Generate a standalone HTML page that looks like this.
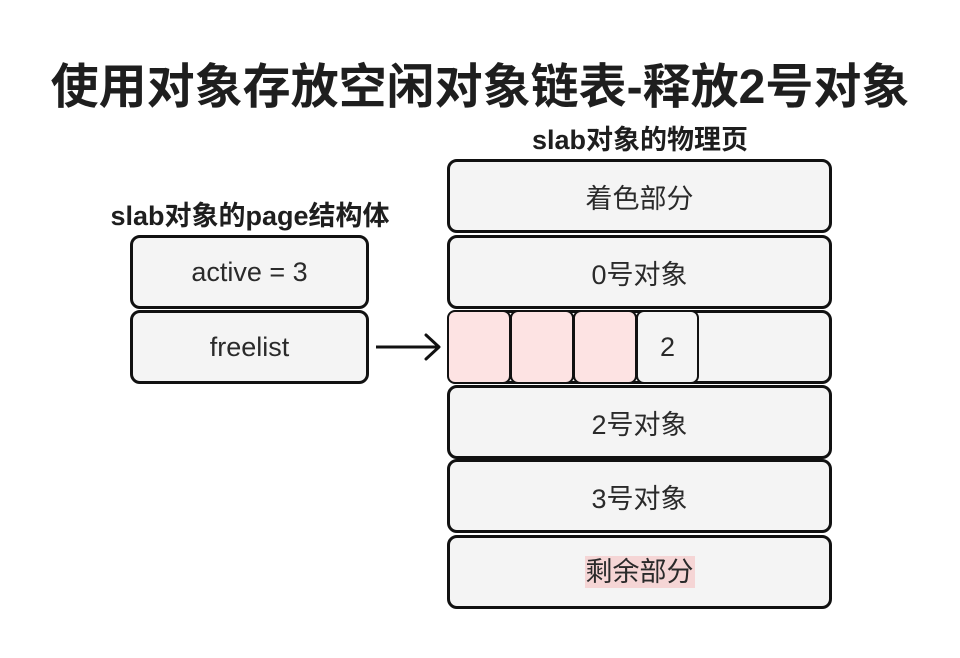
<!DOCTYPE html>
<html><head><meta charset="utf-8"><style>
body{margin:0;width:960px;height:658px;background:#fff;position:relative;overflow:hidden;font-family:"Liberation Sans","Noto Sans CJK SC",sans-serif;color:#222}
.t{position:absolute;white-space:nowrap;font-weight:bold;color:#1e1e1e}
.b{position:absolute;box-sizing:border-box;border:3px solid #111;border-radius:10px;background:#f4f4f4;display:flex;align-items:center;justify-content:center;font-size:27px;color:#2a2a2a}
.c{position:absolute;box-sizing:border-box;border:2px solid #111;border-radius:8px;display:flex;align-items:center;justify-content:center;font-size:27px;color:#2a2a2a}
</style></head><body>
<div class="t" style="left:0;width:960px;top:58px;text-align:center;font-size:48px;letter-spacing:0px;line-height:60px">使用对象存放空闲对象链表-释放2号对象</div>
<div class="t" style="left:440px;width:400px;top:123px;text-align:center;font-size:27px;line-height:34px">slab对象的物理页</div>
<div class="t" style="left:50px;width:400px;top:199px;text-align:center;font-size:27px;line-height:34px">slab对象的page结构体</div>

<div class="b" style="left:447px;top:159px;width:385px;height:74px">着色部分</div>
<div class="b" style="left:447px;top:235px;width:385px;height:74px">0号对象</div>
<div class="b" style="left:447px;top:310px;width:385px;height:74px"></div>
<div class="c" style="left:447px;top:310px;width:64px;height:74px;background:#fde3e3"></div>
<div class="c" style="left:510px;top:310px;width:64px;height:74px;background:#fde3e3"></div>
<div class="c" style="left:573px;top:310px;width:64px;height:74px;background:#fde3e3"></div>
<div class="c" style="left:636px;top:310px;width:63px;height:74px;background:#f4f4f4">2</div>
<div class="b" style="left:447px;top:385px;width:385px;height:74px">2号对象</div>
<div class="b" style="left:447px;top:459px;width:385px;height:74px">3号对象</div>
<div class="b" style="left:447px;top:535px;width:385px;height:74px"><span style="background:#f5d5d5;padding:1px 1px;line-height:30px">剩余部分</span></div>

<div class="b" style="left:130px;top:235px;width:239px;height:74px">active = 3</div>
<div class="b" style="left:130px;top:310px;width:239px;height:74px">freelist</div>

<svg style="position:absolute;left:0;top:0" width="960" height="658">
<line x1="376" y1="347" x2="438" y2="347" stroke="#111" stroke-width="3"/>
<polyline points="426,335 439,347 426,359" fill="none" stroke="#111" stroke-width="3" stroke-linejoin="round" stroke-linecap="round"/>
</svg>
</body></html>
